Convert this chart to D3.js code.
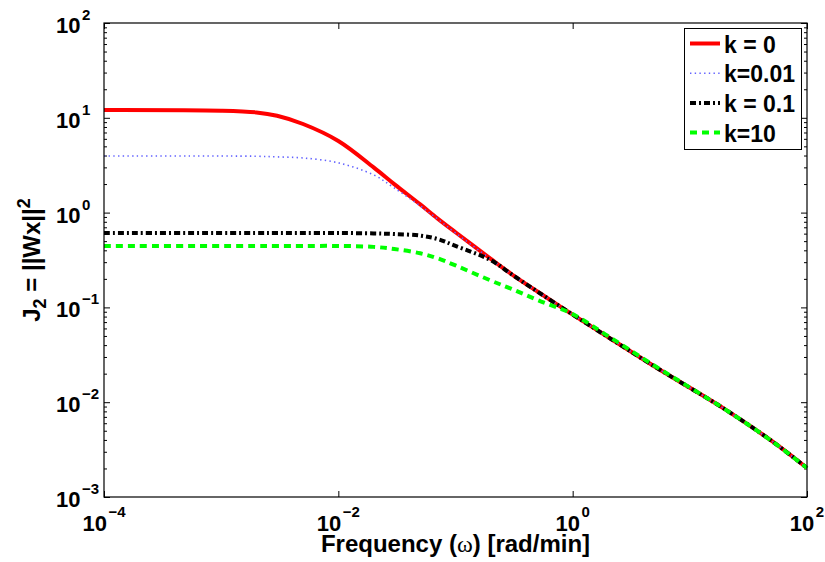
<!DOCTYPE html>
<html>
<head>
<meta charset="utf-8">
<script src="https://cdn.jsdelivr.net/npm/d3@7"></script>
<style>
  body { margin: 0; background: #fff; }
  text { font-family: "Liberation Sans", Arial, sans-serif; font-weight: bold; white-space: pre; }
</style>
</head>
<body>
<div id="canvas"></div>
<script>
// Frecuencias (rad/min) donde se leyeron los valores
const freq = [1e-4, 1e-3, 2e-3, 3e-3, 5e-3, 0.01, 0.02, 0.03, 0.05, 0.07, 0.1, 0.2, 0.3, 0.5, 1, 2, 5, 10, 20, 50, 100];

// J2 para cada valor de k
const jK0    = [12.1, 11.9, 11.4, 10.5, 8.6, 5.7, 3.0, 2.0, 1.22, 0.87, 0.62, 0.325, 0.225, 0.147, 0.084, 0.0487, 0.0238, 0.0142, 0.0084, 0.0039, 0.00202];
const jK001  = [3.95, 3.95, 3.93, 3.87, 3.77, 3.35, 2.5, 1.82, 1.18, 0.86, 0.61, 0.323, 0.224, 0.147, 0.084, 0.0487, 0.0238, 0.0142, 0.0084, 0.0039, 0.00202];
const jK01   = [0.61, 0.61, 0.61, 0.61, 0.61, 0.61, 0.603, 0.594, 0.572, 0.527, 0.445, 0.315, 0.224, 0.147, 0.084, 0.0487, 0.0238, 0.0142, 0.0084, 0.0039, 0.00202];
const jK10   = [0.445, 0.445, 0.445, 0.445, 0.445, 0.445, 0.435, 0.413, 0.372, 0.33, 0.277, 0.192, 0.157, 0.12, 0.085, 0.050, 0.0242, 0.0143, 0.0084, 0.0039, 0.00202];

const legendLabels = ["k = 0", "k=0.01", "k = 0.1", "k=10"];
const xTickExp = [-4, -2, 0, 2];
const yTickExp = [-3, -2, -1, 0, 1, 2];

// Caracteristicas del canvas
const width = 825;
const height = 562;
const margin = {top: 23, left: 104, bottom: 65, right: 18};
const iwidth = width - margin.left - margin.right;
const iheight = height - margin.top - margin.bottom;

const svg = d3.select("#canvas").append("svg")
    .attr("width", width)
    .attr("height", height);

const g = svg.append("g").attr("transform", `translate(${margin.left}, ${margin.top})`);

// Escalas logaritmicas
const x = d3.scaleLog().domain([1e-4, 1e2]).range([0, iwidth]);
const y = d3.scaleLog().domain([1e-3, 1e2]).range([iheight, 0]);

const xMajor = xTickExp.map(e => Math.pow(10, e));
const yMajor = yTickExp.map(e => Math.pow(10, e));
const yMinor = [];
yTickExp.slice(0, -1).forEach(e => {
    for (let m = 2; m <= 9; m++) yMinor.push(m * Math.pow(10, e));
});

// Ejes con marcas hacia adentro (sin etiquetas, se dibujan aparte)
function noDomain(sel) { sel.select(".domain").remove(); }

g.append("g").attr("transform", `translate(0, ${iheight})`)
    .call(d3.axisBottom(x).tickValues(xMajor).tickSizeInner(-6).tickSizeOuter(0).tickFormat(""))
    .call(noDomain);
g.append("g")
    .call(d3.axisTop(x).tickValues(xMajor).tickSizeInner(-6).tickSizeOuter(0).tickFormat(""))
    .call(noDomain);
g.append("g")
    .call(d3.axisLeft(y).tickValues(yMajor).tickSizeInner(-6).tickSizeOuter(0).tickFormat(""))
    .call(noDomain);
g.append("g")
    .call(d3.axisLeft(y).tickValues(yMinor).tickSizeInner(-3).tickSizeOuter(0).tickFormat(""))
    .call(noDomain);
g.append("g").attr("transform", `translate(${iwidth}, 0)`)
    .call(d3.axisRight(y).tickValues(yMajor).tickSizeInner(-6).tickSizeOuter(0).tickFormat(""))
    .call(noDomain);
g.append("g").attr("transform", `translate(${iwidth}, 0)`)
    .call(d3.axisRight(y).tickValues(yMinor).tickSizeInner(-3).tickSizeOuter(0).tickFormat(""))
    .call(noDomain);
g.selectAll(".tick line").attr("stroke", "#000");

// Series
const series = [
    {values: jK0,   color: "#ff0000", width: 4,   dash: null},
    {values: jK001, color: "#6262ff", width: 1.6, dash: "1.4,3.3"},
    {values: jK01,  color: "#000000", width: 4,   dash: "6,3,2,3"},
    {values: jK10,  color: "#00ff00", width: 4,   dash: "7,5"}
];

const line = d3.line()
    .x(d => x(d[0]))
    .y(d => y(d[1]))
    .curve(d3.curveCatmullRom.alpha(0.5));

series.forEach(s => {
    g.append("path")
        .datum(freq.map((f, i) => [f, s.values[i]]))
        .attr("fill", "none")
        .attr("stroke", s.color)
        .attr("stroke-width", s.width)
        .attr("stroke-dasharray", s.dash)
        .attr("d", line);
});

// Caja del grafico
g.append("rect")
    .attr("x", 0).attr("y", 0)
    .attr("width", iwidth).attr("height", iheight)
    .attr("fill", "none").attr("stroke", "#000").attr("stroke-width", 1.2);

// Etiquetas eje y (10^n)
yTickExp.forEach(e => {
    const t = g.append("text")
        .attr("x", -48)
        .attr("y", y(Math.pow(10, e)) + 10)
        .style("font-size", "22px");
    t.append("tspan").text("10");
    t.append("tspan").attr("dx", 1.5).attr("dy", -13).style("font-size", "15px")
        .text(e < 0 ? "\u2212" + (-e) : String(e));
});

// Etiquetas eje x (10^n)
xTickExp.forEach(e => {
    const t = g.append("text")
        .attr("x", x(Math.pow(10, e)))
        .attr("y", iheight + 34)
        .attr("text-anchor", "middle")
        .style("font-size", "22px");
    t.append("tspan").text("10");
    t.append("tspan").attr("dx", 1.5).attr("dy", -14).style("font-size", "15px")
        .text(e < 0 ? "\u2212" + (-e) : String(e));
});

// Titulo eje x
const xt = svg.append("text")
    .attr("x", margin.left + iwidth / 2)
    .attr("y", 552)
    .attr("text-anchor", "middle")
    .style("font-size", "24px");
xt.append("tspan").text("Frequency (");
xt.append("tspan").style("font-family", "'Liberation Serif', serif").style("font-weight", "normal").text("\u03c9");
xt.append("tspan").text(") [rad/min]");

// Titulo eje y
const yt = svg.append("text")
    .attr("transform", `translate(40, ${margin.top + iheight / 2}) rotate(-90)`)
    .attr("text-anchor", "middle")
    .style("font-size", "24px");
yt.append("tspan").text("J");
yt.append("tspan").attr("dy", 6).style("font-size", "18px").text("2");
yt.append("tspan").attr("dy", -6).text(" = ||Wx||");
yt.append("tspan").attr("dy", -10).style("font-size", "18px").text("2");

// Leyenda
const legend = svg.append("g");
legend.append("rect")
    .attr("x", 684.5).attr("y", 28.5)
    .attr("width", 117).attr("height", 121)
    .attr("fill", "#fff").attr("stroke", "#000").attr("stroke-width", 1);

series.forEach((s, i) => {
    const ly = 43.5 + i * 29.7;
    legend.append("line")
        .attr("x1", 690).attr("x2", 720)
        .attr("y1", ly).attr("y2", ly)
        .attr("stroke", s.color)
        .attr("stroke-width", s.width)
        .attr("stroke-dasharray", s.dash);
    legend.append("text")
        .attr("x", 724)
        .attr("y", ly + 9)
        .style("font-size", "23px")
        .text(legendLabels[i]);
});
</script>
</body>
</html>
